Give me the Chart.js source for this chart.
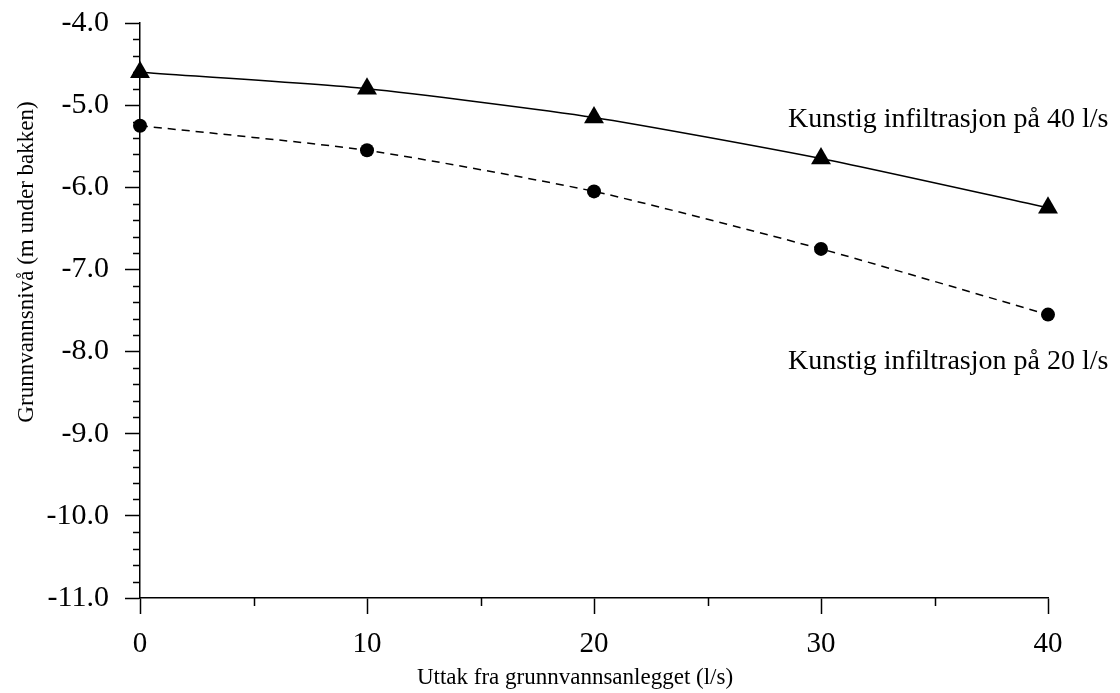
<!DOCTYPE html>
<html>
<head>
<meta charset="utf-8">
<script src="https://cdn.jsdelivr.net/npm/chart.js@4.4.1/dist/chart.umd.min.js"></script>
<style>
  html, body { margin: 0; padding: 0; background: #fff; }
  #wrap { width: 1120px; height: 693px; }
</style>
</head>
<body>
<div id="wrap"><canvas id="chart" width="1120" height="693"></canvas></div>
<script>
// x values (l/s uttak)
const uttak = [0, 10, 20, 30, 40];
// groundwater level, m under surface
const infil40 = [-4.6, -4.8, -5.15, -5.65, -6.25];
const infil20 = [-5.25, -5.55, -6.05, -6.75, -7.55];

const label40 = 'Kunstig infiltrasjon på 40 l/s';
const label20 = 'Kunstig infiltrasjon på 20 l/s';
const xTitle = 'Uttak fra grunnvannsanlegget (l/s)';
const yTitle = 'Grunnvannsnivå (m under bakken)';

const yMinorTicks = [];
for (let i = 0; i <= 35; i++) {
  if (i % 5 !== 0) yMinorTicks.push(-11 + i * 0.2);
}
const xMinorTicks = [5, 15, 25, 35];

const serif = '"Liberation Serif", "Times New Roman", serif';

const toPoints = ys => uttak.map((x, i) => ({ x: x, y: ys[i] }));

// minor ticks + free text (titles, series labels)
const extras = {
  id: 'extras',
  afterDraw(chart) {
    const ctx = chart.ctx;
    const xs = chart.scales.x;
    const ys = chart.scales.y;
    const left = chart.chartArea.left;
    const bottom = chart.chartArea.bottom;
    ctx.save();
    ctx.strokeStyle = '#000';
    ctx.lineWidth = 1.5;
    ctx.beginPath();
    yMinorTicks.forEach(v => {
      const py = Math.round(ys.getPixelForValue(v)) + 0.5;
      ctx.moveTo(left - 7, py);
      ctx.lineTo(left, py);
    });
    xMinorTicks.forEach(v => {
      const px = Math.round(xs.getPixelForValue(v)) + 0.5;
      ctx.moveTo(px, bottom);
      ctx.lineTo(px, bottom + 8);
    });
    ctx.stroke();

    ctx.fillStyle = '#000';
    ctx.font = '28px ' + serif;
    ctx.textAlign = 'left';
    ctx.textBaseline = 'alphabetic';
    ctx.fillText(label40, 788, 127);
    ctx.fillText(label20, 788, 369);

    ctx.font = '23px ' + serif;
    ctx.textAlign = 'center';
    ctx.fillText(xTitle, 575, 684);

    ctx.translate(27, 262);
    ctx.rotate(-Math.PI / 2);
    ctx.textBaseline = 'middle';
    ctx.fillText(yTitle, 0, 0);
    ctx.restore();
  }
};

new Chart(document.getElementById('chart'), {
  type: 'line',
  data: {
    datasets: [
      {
        label: label40,
        data: toPoints(infil40),
        borderColor: '#000',
        borderWidth: 1.5,
        backgroundColor: '#000',
        pointStyle: 'triangle',
        pointRadius: 11.5,
        pointBorderWidth: 0,
        tension: 0.2,
        clip: false
      },
      {
        label: label20,
        data: toPoints(infil20),
        borderColor: '#000',
        borderWidth: 1.5,
        borderDash: [8, 6],
        backgroundColor: '#000',
        pointStyle: 'circle',
        pointRadius: 7,
        pointBorderWidth: 0,
        tension: 0.2,
        clip: false
      }
    ]
  },
  options: {
    responsive: false,
    animation: false,
    layout: { padding: { top: 23, right: 72, left: 0, bottom: 0 } },
    plugins: {
      legend: { display: false },
      tooltip: { enabled: false }
    },
    scales: {
      x: {
        type: 'linear',
        min: 0,
        max: 40,
        ticks: {
          stepSize: 10,
          color: '#000',
          padding: 13,
          font: { family: serif, size: 29 }
        },
        grid: {
          drawOnChartArea: false,
          tickLength: 16,
          tickColor: '#000',
          tickWidth: 1.5
        },
        border: { color: '#000', width: 1.5 },
        afterFit(scale) {
          scale.height = 95;
          scale.paddingLeft = 0;
          scale.paddingRight = 0;
        }
      },
      y: {
        min: -11,
        max: -4,
        ticks: {
          stepSize: 1,
          color: '#000',
          padding: 16,
          font: { family: serif, size: 30 },
          callback: v => v.toFixed(1)
        },
        grid: {
          drawOnChartArea: false,
          tickLength: 15,
          tickColor: '#000',
          tickWidth: 1.5
        },
        border: { color: '#000', width: 1.5 },
        afterFit(scale) {
          scale.width = 140;
          scale.paddingTop = 0;
          scale.paddingBottom = 0;
        }
      }
    }
  },
  plugins: [extras]
});
</script>
</body>
</html>
